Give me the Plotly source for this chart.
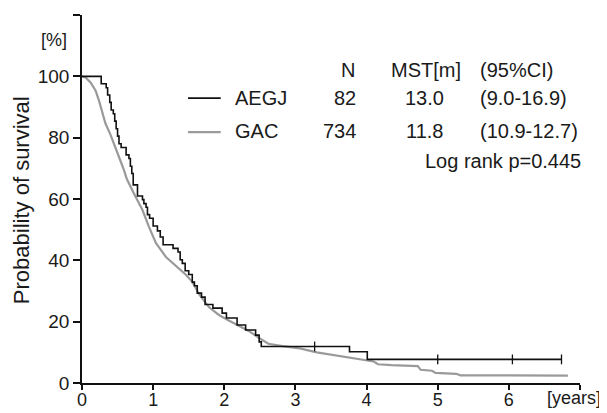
import plotly.graph_objects as go

# ---- data ----
aegj_t = [0, 0.27, 0.34, 0.36, 0.39, 0.41, 0.44, 0.46, 0.48, 0.50,
          0.52, 0.55, 0.62, 0.66, 0.68, 0.70, 0.72, 0.78, 0.85, 0.87,
          0.90, 0.92, 0.95, 1.00, 1.06, 1.10, 1.14, 1.28, 1.35, 1.38,
          1.41, 1.45, 1.50, 1.55, 1.58, 1.62, 1.68, 1.73, 1.84, 1.97,
          2.03, 2.18, 2.30, 2.44, 2.49, 2.52, 3.76, 4.01, 6.74]
aegj_s = [100, 97.6, 96.3, 93.9, 91.5, 89.0, 87.8, 85.4, 82.9, 80.5,
          78.0, 76.8, 74.4, 73.2, 70.7, 68.3, 64.6, 61.0, 59.8, 58.5,
          57.3, 54.9, 53.7, 51.2, 49.6, 47.6, 45.1, 43.9, 42.7, 40.2,
          39.0, 36.6, 35.4, 32.9, 31.7, 29.3, 28.0, 25.6, 24.4, 22.8,
          21.2, 18.9, 17.3, 15.6, 13.4, 11.9, 10.2, 7.7, 7.7]
aegj_cens_t = [3.27, 5.0, 6.05, 6.74]
aegj_cens_s = [11.9, 7.7, 7.7, 7.7]

gac_t = [0, 0.05, 0.12, 0.19, 0.24, 0.28, 0.33, 0.40, 0.47, 0.52,
         0.59, 0.63, 0.73, 0.85, 0.94, 1.04, 1.18, 1.32, 1.46, 1.55,
         1.65, 1.79, 1.93, 2.07, 2.21, 2.35, 2.50, 2.62, 2.82, 3.06,
         3.30, 3.52, 3.76, 3.99, 4.10, 4.16, 4.35, 4.72, 4.76, 4.92,
         4.97, 5.26, 5.32, 6.83]
gac_s = [100, 99.6, 98.0, 95.4, 92.0, 88.5, 84.6, 81.0, 77.0, 73.7,
         69.4, 66.5, 61.8, 56.4, 51.0, 45.6, 41.1, 38.2, 35.3, 33.0,
         28.8, 24.6, 22.1, 20.3, 18.7, 16.9, 14.5, 12.8, 12.0, 11.3,
         10.0, 9.2, 8.4, 7.6, 7.0, 6.1, 5.8, 5.5, 4.3, 4.0,
         3.3, 3.0, 2.5, 2.4]

x_ticks = [0, 1, 2, 3, 4, 5, 6, 7]
x_ticktext = ["0", "1", "2", "3", "4", "5", "6", ""]
x_unit = "[years]"
y_ticks = [0, 20, 40, 60, 80, 100, 120]
y_ticktext = ["0", "20", "40", "60", "80", "100", ""]
y_unit = "[%]"

groups = ["AEGJ", "GAC"]
n_vals = ["82", "734"]
mst_vals = ["13.0", "11.8"]
ci_vals = ["(9.0-16.9)", "(10.9-12.7)"]
p_text = "Log rank p=0.445"

X_MAX = 7.0
Y_MAX = 120.0

FONT = "Liberation Sans, Arial, sans-serif"
TXT = "#1a1a1a"
BLACK = "#111111"
GRAY = "#9a9a9a"

fig = go.Figure()
fig.add_trace(go.Scatter(x=gac_t, y=gac_s, mode="lines",
                         line=dict(color=GRAY, width=2.2), showlegend=False))
fig.add_trace(go.Scatter(x=aegj_t, y=aegj_s, mode="lines",
                         line=dict(color=BLACK, width=1.6, shape="hv"),
                         showlegend=False))
fig.add_trace(go.Scatter(x=aegj_cens_t, y=aegj_cens_s, mode="markers",
                         marker=dict(symbol="line-ns", size=7,
                                     line=dict(color=BLACK, width=1.3)),
                         showlegend=False))

ann = []
def txt(x, y, s, anchor="center", size=20, angle=0):
    # positions given in data units, converted to paper units
    ann.append(dict(x=x / X_MAX, y=y / Y_MAX, xref="paper", yref="paper",
                    text=s, showarrow=False,
                    xanchor=anchor, yanchor="middle", textangle=angle,
                    font=dict(family=FONT, size=size, color=TXT)))

row_y = [92.9, 82.2]
head_y = 102.0
txt(3.74, head_y, "N")
txt(4.83, head_y, "MST[m]")
txt(5.57, head_y, "(95%CI)", anchor="left")
for i in range(2):
    txt(2.12, row_y[i], groups[i], anchor="left")
    txt(3.88, row_y[i], n_vals[i], anchor="right")
    txt(4.82, row_y[i], mst_vals[i])
    txt(5.57, row_y[i], ci_vals[i], anchor="left")
txt(7.04, 72.4, p_text, anchor="right")
txt(-0.39, 111.8, y_unit, size=18)
txt(7.33, -4.8, x_unit, anchor="right", size=18)
txt(-0.84, 59.7, "Probability of survival", size=22, angle=-90)

shapes = [
    dict(type="line", xref="x", yref="y", x0=1.49, x1=1.95, y0=92.9, y1=92.9,
         line=dict(color=BLACK, width=1.6)),
    dict(type="line", xref="x", yref="y", x0=1.49, x1=1.95, y0=81.8, y1=81.8,
         line=dict(color=GRAY, width=2.2)),
]

axis_common = dict(showline=True, linecolor=BLACK, linewidth=1.6,
                   ticks="outside", tickcolor=BLACK, tickwidth=1.6,
                   showgrid=False, zeroline=False, automargin=False,
                   ticklabeloverflow="allow")

# page body has an 8px default margin; size the figure so it fits the window
fig.update_layout(
    width=599, height=405,
    margin=dict(l=74, r=27, t=7, b=30),
    paper_bgcolor="white", plot_bgcolor="white",
    xaxis=dict(range=[0, X_MAX], tickvals=x_ticks, ticktext=x_ticktext,
               ticklen=5, ticklabelstandoff=-5,
               tickfont=dict(family=FONT, size=18, color=TXT),
               **axis_common),
    yaxis=dict(range=[0, Y_MAX], tickvals=y_ticks, ticktext=y_ticktext,
               ticklen=7, tickfont=dict(family=FONT, size=19, color=TXT),
               **axis_common),
    annotations=ann, shapes=shapes, showlegend=False,
)
fig.write_html("out.html")
